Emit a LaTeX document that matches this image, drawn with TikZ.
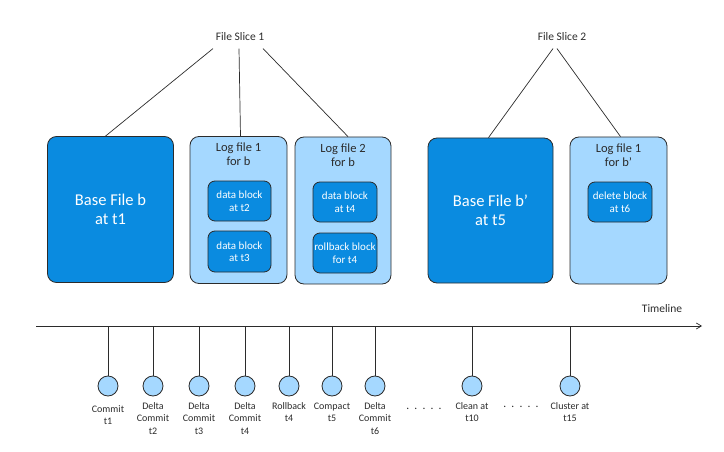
\documentclass[tikz,border=0pt]{standalone}
\usepackage{fontspec}
\setmainfont{Carlito}
\usetikzlibrary{arrows.meta}
\definecolor{darkblue}{HTML}{0A8BE0}
\definecolor{lightblue}{HTML}{A5D8FF}
\definecolor{ink}{HTML}{2B2B2B}
\tikzset{
  basebox/.style={draw=ink, line width=0.8pt, fill=darkblue, rounded corners=9pt, text=white, align=center, font=\fontsize{16.5}{19}\selectfont},
  logbox/.style={draw=ink, line width=0.8pt, fill=lightblue, rounded corners=9pt},
  blockbox/.style={draw=ink, line width=0.8pt, fill=darkblue, rounded corners=7pt, text=white, align=center, font=\fontsize{11}{12.5}\selectfont},
  logtitle/.style={align=center, text=ink, font=\fontsize{12.5}{14}\selectfont},
  slicelabel/.style={text=ink, font=\fontsize{11.5}{13}\selectfont},
  link/.style={draw=ink, line width=0.7pt},
  event/.style={circle, draw=ink, line width=0.8pt, fill=lightblue, minimum size=20pt, inner sep=0pt},
  evlabel/.style={align=center, text=ink, font=\fontsize{10}{12.5}\selectfont, anchor=north},
}
\begin{document}
\begin{tikzpicture}[x=1pt, y=-1pt]
\useasboundingbox (0,0) rectangle (724,452);
% File slice labels
\node[slicelabel] (fs1) at (240,37) {File Slice 1};
\node[slicelabel] (fs2) at (562,37) {File Slice 2};
% Boxes
\node[basebox, minimum width=126pt, minimum height=146pt] (base1) at (110.5,209.5) {Base File b\\at t1};
\node[logbox, minimum width=97pt, minimum height=147pt] (log1) at (238.5,210) {};
\node[logbox, minimum width=96pt, minimum height=147pt] (log2) at (343,210.5) {};
\node[basebox, minimum width=125pt, minimum height=145pt] (base2) at (490.5,210.5) {Base File b'\\at t5};
\node[logbox, minimum width=97pt, minimum height=147pt] (log3) at (618.5,210.5) {};
% Log titles
\node[logtitle] (t1) at (238.5,154) {Log file 1\\for b};
\node[logtitle] (t2) at (343,155) {Log file 2\\for b};
\node[logtitle] (t3) at (618.5,155) {Log file 1\\for b'};
% Inner blocks
\node[blockbox, minimum width=63pt, minimum height=40pt] (b1) at (239.5,201) {data block\\at t2};
\node[blockbox, minimum width=63pt, minimum height=41pt] (b2) at (239.5,251.5) {data block\\at t3};
\node[blockbox, minimum width=64pt, minimum height=40pt] (b3) at (345,202) {data block\\at t4};
\node[blockbox, minimum width=64pt, minimum height=40pt, inner xsep=1pt] (b4) at (345,253) {rollback block\\for t4};
\node[blockbox, minimum width=64pt, minimum height=40pt, inner xsep=1pt] (b5) at (620,202) {delete block\\at t6};
% Slice connectors
\draw[link] ([xshift=-27pt,yshift=-4pt]fs1.south) -- ([xshift=-5pt]base1.north);
\draw[link] ([xshift=-1pt,yshift=-4pt]fs1.south) -- ([xshift=2pt]log1.north);
\draw[link] ([xshift=23pt,yshift=-4pt]fs1.south) -- ([xshift=5pt]log2.north);
\draw[link] ([xshift=-9pt,yshift=-4pt]fs2.south) -- ([xshift=-2pt]base2.north);
\draw[link] ([xshift=-5pt,yshift=-4pt]fs2.south) -- ([xshift=2pt]log3.north);
% Timeline
\coordinate (tl0) at (36,326);
\coordinate (tl1) at (702,326);
\draw[link, -{Straight Barb[length=5pt,width=6pt]}] (tl0) -- (tl1);
\node[slicelabel] (tlab) at (662,309) {Timeline};
% Events
\foreach \n/\x in {e1/108, e2/153, e3/199, e4/245, e5/289, e6/332, e7/375, e8/472, e9/570}{
  \coordinate (\n top) at (\x,326);
  \node[event] (\n) at (\x,386) {};
  \draw[link] (\n top) -- (\n);
}
\node[evlabel] (l1) at (108,402) {Commit\\t1};
\node[evlabel] (l2) at (153,399) {Delta\\Commit\\t2};
\node[evlabel] (l3) at (199,399) {Delta\\Commit\\t3};
\node[evlabel] (l4) at (245,399) {Delta\\Commit\\t4};
\node[evlabel] (l5) at (289,399) {Rollback\\t4};
\node[evlabel] (l6) at (332,399) {Compact\\t5};
\node[evlabel] (l7) at (375,399) {Delta\\Commit\\t6};
\node[evlabel] (l8) at (472,399) {Clean at\\t10};
\node[evlabel] (l9) at (570,399) {Cluster at\\t15};
\node[slicelabel] (d1) at (424,409) {.\ \ .\ \ .\ \ .\ \ .};
\node[slicelabel] (d2) at (521,407) {.\ \ .\ \ .\ \ .\ \ .};
\end{tikzpicture}
\end{document}
